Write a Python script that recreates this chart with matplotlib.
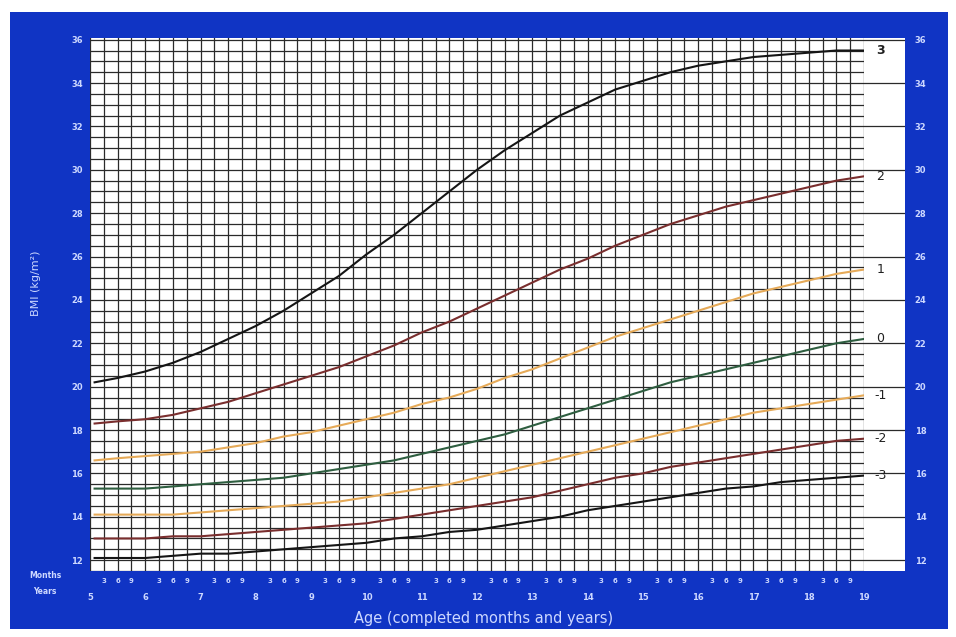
import numpy as np
import matplotlib
matplotlib.use("Agg")
import matplotlib.pyplot as plt
from matplotlib.patches import Rectangle
import matplotlib.transforms as mtransforms

# Age in years (first point is 5 years 1 month)
ages = [5.083, 5.5, 6, 6.5, 7, 7.5, 8, 8.5, 9, 9.5, 10, 10.5, 11, 11.5, 12,
        12.5, 13, 13.5, 14, 14.5, 15, 15.5, 16, 16.5, 17, 17.5, 18, 18.5, 19]

# BMI z-score curves
sd3 = [20.2, 20.4, 20.7, 21.1, 21.6, 22.2, 22.8, 23.5, 24.3, 25.1, 26.1, 27.0, 28.0, 29.0, 30.0,
       30.9, 31.7, 32.5, 33.1, 33.7, 34.1, 34.5, 34.8, 35.0, 35.2, 35.3, 35.4, 35.5, 35.5]
sd2 = [18.3, 18.4, 18.5, 18.7, 19.0, 19.3, 19.7, 20.1, 20.5, 20.9, 21.4, 21.9, 22.5, 23.0, 23.6,
       24.2, 24.8, 25.4, 25.9, 26.5, 27.0, 27.5, 27.9, 28.3, 28.6, 28.9, 29.2, 29.5, 29.7]
sd1 = [16.6, 16.7, 16.8, 16.9, 17.0, 17.2, 17.4, 17.7, 17.9, 18.2, 18.5, 18.8, 19.2, 19.5, 19.9,
       20.4, 20.8, 21.3, 21.8, 22.3, 22.7, 23.1, 23.5, 23.9, 24.3, 24.6, 24.9, 25.2, 25.4]
sd0 = [15.3, 15.3, 15.3, 15.4, 15.5, 15.6, 15.7, 15.8, 16.0, 16.2, 16.4, 16.6, 16.9, 17.2, 17.5,
       17.8, 18.2, 18.6, 19.0, 19.4, 19.8, 20.2, 20.5, 20.8, 21.1, 21.4, 21.7, 22.0, 22.2]
sdm1 = [14.1, 14.1, 14.1, 14.1, 14.2, 14.3, 14.4, 14.5, 14.6, 14.7, 14.9, 15.1, 15.3, 15.5, 15.8,
        16.1, 16.4, 16.7, 17.0, 17.3, 17.6, 17.9, 18.2, 18.5, 18.8, 19.0, 19.2, 19.4, 19.6]
sdm2 = [13.0, 13.0, 13.0, 13.1, 13.1, 13.2, 13.3, 13.4, 13.5, 13.6, 13.7, 13.9, 14.1, 14.3, 14.5,
        14.7, 14.9, 15.2, 15.5, 15.8, 16.0, 16.3, 16.5, 16.7, 16.9, 17.1, 17.3, 17.5, 17.6]
sdm3 = [12.1, 12.1, 12.1, 12.2, 12.3, 12.3, 12.4, 12.5, 12.6, 12.7, 12.8, 13.0, 13.1, 13.3, 13.4,
        13.6, 13.8, 14.0, 14.3, 14.5, 14.7, 14.9, 15.1, 15.3, 15.4, 15.6, 15.7, 15.8, 15.9]

curve_labels = ["3", "2", "1", "0", "-1", "-2", "-3"]
years = list(range(5, 20))
month_labels = ["3", "6", "9"]
bmi_ticks = list(range(12, 37, 2))

BLUE = "#1034c4"
TXT = "#cdd8ff"
GRID = "#2a2a2a"
colors = ["#151515", "#7a2e2e", "#e6aa58", "#2e5e40", "#e6aa58", "#7a2e2e", "#151515"]

W, H = 956, 637
fig = plt.figure(figsize=(W / 100, H / 100), dpi=100)
fig.patch.set_facecolor("white")

# blue panel behind everything
fig.patches.append(Rectangle((10 / W, 1 - 629 / H), (948 - 10) / W, (629 - 12) / H,
                             transform=fig.transFigure, facecolor=BLUE, edgecolor="none", zorder=-10))

x0, x1, ytop, ybot = 90, 864, 37.5, 571
ax = fig.add_axes([x0 / W, 1 - ybot / H, (x1 - x0) / W, (ybot - ytop) / H])
ax.set_facecolor("white")
ax.set_xlim(5, 19)
ax.set_ylim(11.5, 36.1)

# grid: every 3 months and every 0.5 BMI
ax.set_xticks(np.arange(5, 19.01, 0.25))
ax.set_yticks(np.arange(11.5, 36.01, 0.5), minor=True)
ax.set_yticks(bmi_ticks)
ax.grid(True, which="both", color=GRID, linewidth=0.9)
ax.set_axisbelow(True)
ax.tick_params(axis="x", length=0, labelbottom=False)
ax.tick_params(axis="y", which="both", length=0, labelsize=6, labelcolor=TXT, pad=5)
ax.set_yticklabels([str(v) for v in bmi_ticks], fontweight="bold")
for s in ax.spines.values():
    s.set_visible(False)

series = [sd3, sd2, sd1, sd0, sdm1, sdm2, sdm3]
for vals, c in zip(series, colors):
    ax.plot(ages, vals, color=c, linewidth=1.5, zorder=3, solid_joinstyle="round")

# month and year labels under the grid
trans = mtransforms.blended_transform_factory(ax.transData, ax.transAxes)
for yr in years:
    ax.text(yr, -0.050, str(yr), transform=trans, ha="center", va="center",
            fontsize=6, color=TXT, fontweight="bold")
    if yr < 19:
        for k, m in enumerate(month_labels):
            ax.text(yr + 0.25 * (k + 1), -0.019, m, transform=trans, ha="center", va="center",
                    fontsize=5, color=TXT, fontweight="bold")

fig.text(45 / W, 1 - 576 / H, "Months", ha="center", va="center", fontsize=5.5, color=TXT, fontweight="bold")
fig.text(45 / W, 1 - 591 / H, "Years", ha="center", va="center", fontsize=5.5, color=TXT, fontweight="bold")
fig.text(484 / W, 1 - 618 / H, "Age (completed months and years)", ha="center", va="center",
         fontsize=10.5, color=TXT)
fig.text(36 / W, 1 - 283 / H, "BMI (kg/m²)", ha="center", va="center", rotation=90,
         fontsize=8, color=TXT)

# label box on the right with z-score names
bx = fig.add_axes([x1 / W, 1 - ybot / H, (905 - x1) / W, (ybot - ytop) / H])
bx.set_facecolor("white")
bx.set_xlim(0, 1)
bx.set_ylim(11.5, 36.1)
for v in bmi_ticks:
    bx.axhline(v, color=GRID, linewidth=0.9)
bx.set_xticks([])
bx.set_yticks(bmi_ticks)
bx.yaxis.tick_right()
bx.tick_params(axis="y", length=0, labelsize=6, labelcolor=TXT, pad=7)
bx.set_yticklabels([str(v) for v in bmi_ticks], fontweight="bold")
for s in bx.spines.values():
    s.set_visible(False)

for lab, vals in zip(curve_labels, series):
    bx.text(0.4, vals[-1], lab, ha="center", va="center", fontsize=9, color="#202020",
            fontweight="bold" if lab == "3" else "normal")

fig.savefig("out.png", dpi=100)
